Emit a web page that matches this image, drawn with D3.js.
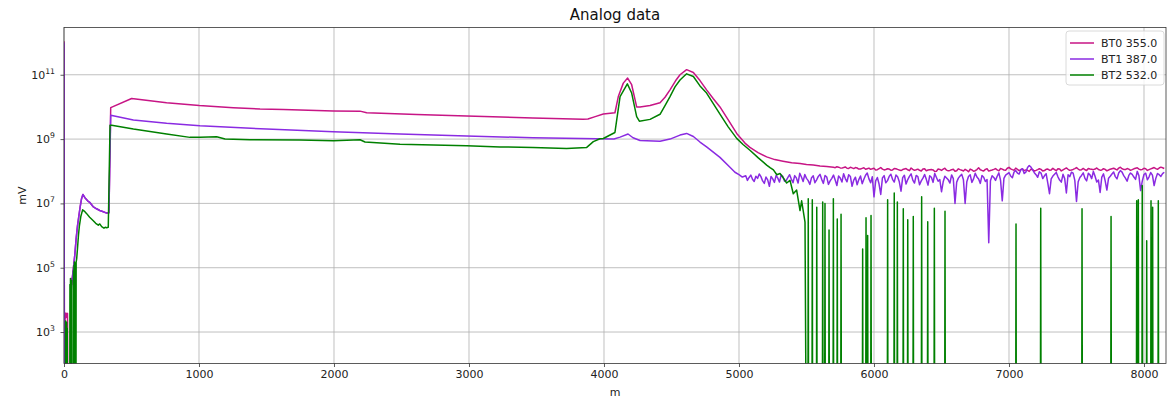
<!DOCTYPE html>
<html>
<head>
<meta charset="utf-8">
<script src="https://cdn.jsdelivr.net/npm/d3@7/dist/d3.min.js"></script>
<style>
  body { margin: 0; background: #fff; }
  svg { display: block; font-family: "DejaVu Sans", sans-serif; }
</style>
</head>
<body>
<svg id="chart" width="1167" height="400"></svg>
<script>
// ---- series labels and colours ----
const seriesNames  = ["BT0 355.0", "BT1 387.0", "BT2 532.0"];
const seriesColors = ["#c71585", "#8a2be2", "#008000"];

// ---- axis ticks ----
const xTickValues   = [0, 1000, 2000, 3000, 4000, 5000, 6000, 7000, 8000];
const yTickExponent = [3, 5, 7, 9, 11];
const xDomain = [0, 8163];
const yDomain = [1.05e2, 2.95e12];

// ---- BT0: readings [m, mV] ----
const bt0Head = [
  [0,1.1e12],[4,0],[8,3.6e3],[11,2.7e3],[14,3.9e3],[17,2.9e3],[20,3.7e3],[23,3.1e3],[26,3.8e3],[30,0],
  [50,0],[54,4.6e4],[58,3e4],[62,5e4],[66,7e4],[72,1.2e5],[80,2.5e5],[90,8e5],[100,2e6],[110,4e6],
  [120,8e6],[130,1.4e7],[140,1.9e7],[155,1.5e7],[175,1.2e7],[193,1.05e7],[215,8e6],[241,6.8e6],
  [265,6e6],[291,5.5e6],[316,5e6],[333,5.1e6],
  [346,9.5e9],[501,1.82e10],[760,1.35e10],[1002,1.10e10],[1254,9.5e9],[1452,8.6e9],[1625,8.3e9],
  [1995,7.5e9],[2193,7.4e9],[2242,6.6e9],[2612,5.8e9],[2983,5.2e9],[3474,4.55e9],[3844,4.15e9],
  [3881,4.2e9],[3935,5.0e9],[3995,6.0e9],[4081,6.6e9],[4106,2.1e10],[4143,5.5e10],[4175,7.9e10],
  [4205,4.9e10],[4242,1.0e10],[4267,1.0e10],[4341,1.1e10],[4415,1.35e10],[4452,2.0e10],[4489,3.4e10],
  [4530,6.5e10],[4563,1.0e11],[4612,1.44e11],[4662,1.18e11],[4711,6.6e10],[4760,3.4e10],[4810,1.8e10],
  [4859,1.0e10],[4919,4e9],[4983,1.5e9],[5044,7.5e8],[5081,5.5e8],[5141,3.8e8],[5205,2.8e8],
  [5265,2.3e8],[5326,2.06e8],[5390,1.85e8],[5452,1.74e8],[5500,1.62e8],[5550,1.55e8],[5600,1.46e8],
  [5650,1.40e8]
];
// BT0 noise floor: readings every 25 m from 5700 m, plus the readings half-way between them
const bt0TailStart = 5700, bt0TailStep = 25;
const bt0Tail = [
  1.32e8,1.38e8,1.27e8,1.30e8,1.24e8,1.33e8,1.21e8,1.26e8,1.18e8,1.28e8,1.20e8,
  1.15e8,1.24e8,1.12e8,1.30e8,1.10e8,1.19e8,1.08e8,1.22e8,1.14e8,1.05e8,1.18e8,1.11e8,
  1.26e8,1.07e8,1.16e8,1.02e8,1.20e8,1.09e8,1.13e8,0.98e8,1.17e8,1.06e8,1.24e8,1.03e8,
  1.12e8,1.00e8,1.19e8,1.08e8,1.15e8,0.96e8,1.10e8,1.04e8,1.28e8,1.06e8,1.14e8,1.01e8,
  1.09e8,1.21e8,1.03e8,1.16e8,1.07e8,1.32e8,1.12e8,1.25e8,1.05e8,1.18e8,1.10e8,0.99e8,
  1.13e8,1.06e8,1.20e8,1.02e8,1.15e8,1.08e8,1.23e8,1.04e8,1.17e8,1.11e8,1.27e8,1.07e8,
  1.14e8,1.30e8,1.09e8,1.22e8,1.05e8,1.18e8,1.12e8,1.26e8,1.08e8,1.20e8,1.03e8,1.16e8,
  1.24e8,1.10e8,1.33e8,1.14e8,1.21e8,1.07e8,1.19e8,1.28e8,1.11e8,1.23e8,1.06e8,1.18e8,
  1.30e8,1.15e8,1.34e8,1.22e8
];
const bt0TailMid = [
  1.29e8,1.34e8,1.25e8,1.36e8,1.22e8,1.27e8,1.30e8,1.17e8,1.23e8,1.15e8,
  1.25e8,1.19e8,1.09e8,1.21e8,1.16e8,1.13e8,1.17e8,1.10e8,1.20e8,1.09e8,
  1.13e8,1.21e8,1.04e8,1.15e8,1.11e8,1.07e8,1.18e8,1.03e8,1.12e8,1.10e8,
  1.00e8,1.14e8,1.16e8,1.08e8,1.06e8,1.15e8,1.04e8,1.12e8,1.02e8,1.07e8,
  1.17e8,1.00e8,1.13e8,1.11e8,1.02e8,1.19e8,1.05e8,1.14e8,1.10e8,1.22e8,
  1.09e8,1.24e8,1.19e8,1.08e8,1.15e8,1.13e8,1.04e8,1.07e8,1.16e8,1.01e8,
  1.12e8,1.14e8,1.05e8,1.17e8,1.10e8,1.13e8,1.20e8,1.02e8,1.19e8,1.15e8,
  1.10e8,1.21e8,1.17e8,1.12e8,1.11e8,1.22e8,1.15e8,1.17e8,1.13e8,1.10e8,
  1.14e8,1.09e8,1.20e8,1.17e8,1.25e8,1.19e8,1.13e8,1.16e8,1.12e8,1.24e8,
  1.16e8,1.14e8,1.20e8,1.12e8,1.24e8,1.21e8,1.26e8,1.28e8
];

// ---- BT1: readings [m, mV] ----
const bt1Head = [
  [0,1.0e12],[4,0],[50,0],[54,2e4],[58,3.5e4],[62,5e4],[66,7e4],[72,1.2e5],[80,2.5e5],[90,8e5],
  [100,2e6],[110,4e6],[120,8e6],[130,1.4e7],[140,1.9e7],[155,1.5e7],[175,1.2e7],[193,1.05e7],
  [215,8e6],[241,6.8e6],[265,6e6],[291,5.5e6],[316,5e6],[333,5.1e6],
  [346,5.5e9],[514,3.9e9],[760,3.1e9],[1007,2.6e9],[1501,2.05e9],[1995,1.7e9],[2489,1.43e9],
  [2983,1.24e9],[3474,1.1e9],[3946,1.02e9],[4074,1.0e9],[4119,1.15e9],[4178,1.44e9],[4215,1.1e9],
  [4267,9e8],[4415,8.5e8],[4489,1.0e9],[4563,1.33e9],[4612,1.5e9],[4662,1.2e9],[4711,8.1e8],
  [4760,5.7e8],[4859,2.7e8],[4933,1.33e8],[4970,9.3e7],[5000,7.8e7],[5025,6.6e7]
];
// BT1 noise floor: readings every 25 m from 5050 m, plus the readings half-way between them
const bt1TailStart = 5050, bt1TailStep = 25;
const bt1Tail = [
  7.2e7,6.4e7,5.6e7,7.0e7,8.2e7,5.0e7,6.6e7,3.4e7,5.8e7,7.4e7,
  4.6e7,6.8e7,5.2e7,7.8e7,4.4e7,6.2e7,8.6e7,4.8e7,6.0e7,3.9e7,
  7.2e7,5.4e7,8.0e7,4.2e7,6.6e7,5.0e7,7.6e7,3.6e7,6.2e7,8.4e7,
  4.7e7,6.9e7,5.3e7,3.8e7,7.1e7,5.6e7,8.8e7,4.4e7,1.6e7,6.4e7,
  1.9e7,7.3e7,5.1e7,8.1e7,4.6e7,6.7e7,2.4e7,7.5e7,5.5e7,8.3e7,
  4.3e7,6.8e7,5.0e7,7.9e7,3.7e7,6.5e7,8.5e7,4.9e7,2.3e7,7.0e7,
  5.4e7,7.7e7,1.0e7,6.1e7,8.0e7,1.0e7,6.9e7,4.5e7,8.7e7,5.7e7,
  7.4e7,4.8e7,6.0e5,7.2e7,5.2e7,8.9e7,1.2e7,7.6e7,9.0e7,6.3e7,
  1.05e8,8.2e7,1.2e8,9.4e7,1.5e8,1.1e8,7.8e7,9.6e7,5.9e7,8.4e7,
  2.0e7,7.1e7,9.2e7,5.3e7,8.0e7,2.1e7,6.8e7,8.7e7,1.15e7,6.4e7,
  8.9e7,5.0e7,7.7e7,9.8e7,4.6e7,2.2e7,8.3e7,2.6e7,7.0e7,9.5e7,
  5.8e7,1.05e8,7.3e7,4.9e7,8.8e7,6.6e7,9.9e7,2.5e7,7.9e7,5.4e7,
  9.1e7,3.6e7,8.5e7,6.9e7,9.3e7
];
const bt1TailMid = [
  5.2e7,7.6e7,4.8e7,6.0e7,6.8e7,4.2e7,5.4e7,6.9e7,4.5e7,6.1e7,
  7.7e7,4.9e7,6.4e7,5.7e7,7.3e7,4.3e7,6.6e7,7.9e7,5.1e7,6.3e7,
  4.4e7,6.9e7,5.6e7,7.4e7,3.9e7,6.0e7,5.3e7,7.1e7,4.6e7,5.9e7,
  7.8e7,3.4e7,6.5e7,5.5e7,4.1e7,7.5e7,5.8e7,6.7e7,5.0e7,4.0e7,
  6.2e7,4.4e7,6.9e7,5.6e7,7.6e7,4.7e7,6.3e7,4.0e7,6.9e7,5.3e7,
  7.4e7,3.8e7,6.1e7,5.6e7,7.2e7,4.5e7,6.4e7,5.5e7,4.7e7,6.2e7,
  4.3e7,5.9e7,4.6e7,7.1e7,5.4e7,4.7e7,7.8e7,5.8e7,6.6e7,4.2e7,
  6.5e7,5.5e7,5.1e7,6.4e7,7.0e7,5.2e7,6.0e7,8.3e7,7.1e7,9.5e7,
  8.8e7,1.1e8,8.5e7,1.3e8,1.35e8,9.0e7,6.5e7,8.8e7,7.2e7,4.3e7,
  5.8e7,8.1e7,6.7e7,4.6e7,5.9e7,7.8e7,9.3e7,5.2e7,4.7e7,7.4e7,
  6.0e7,8.6e7,5.9e7,7.0e7,5.3e7,6.6e7,5.0e7,6.1e7,8.2e7,6.8e7,
  8.8e7,9.4e7,6.1e7,7.4e7,8.0e7,5.6e7,7.2e7,5.0e7,8.7e7,6.7e7,
  7.6e7,6.0e7,7.8e7,8.4e7
];

// ---- BT2: readings [m, mV] ----
const bt2Head = [
  [0,0],[10,0],[12,2.2e3],[14,0],[16,1.6e3],[18,0],[20,2.0e3],[22,0],[24,1.3e3],[26,0],
  [42,0],[44,3e4],[46,0],[48,4.6e4],[50,0],[52,2.5e4],[54,0],[56,4e4],[58,0],
  [68,0],[70,8e4],[72,0],[74,1.2e5],[76,0],[78,1.5e5],[80,0],[82,1.0e5],[84,0],[86,1.4e5],[88,0],
  [90,1.5e5],[94,1.9e5],[100,4e5],[107,1e6],[114,2e6],[125,4e6],[138,6.3e6],[150,5.8e6],[168,4.8e6],
  [190,3.7e6],[217,2.9e6],[235,2.4e6],[254,2.1e6],[265,2.3e6],[279,1.9e6],[296,1.7e6],[305,1.8e6],
  [316,1.75e6],[328,1.8e6],
  [341,2.7e9],[353,2.7e9],[514,2.05e9],[760,1.43e9],[933,1.13e9],[1007,1.15e9],[1131,1.18e9],
  [1193,1.0e9],[1378,9.5e8],[1748,9.3e8],[1995,8.9e8],[2193,9.5e8],[2230,8.1e8],[2489,6.9e8],
  [2736,6.5e8],[2983,6.2e8],[3230,5.7e8],[3474,5.5e8],[3723,5.1e8],[3872,5.5e8],[3921,8.3e8],
  [3970,1.02e9],[3995,1.04e9],[4081,1.6e9],[4094,3.9e9],[4119,2.1e10],[4173,5.2e10],[4205,2.7e10],
  [4242,5e9],[4262,3.6e9],[4341,4.1e9],[4415,5.9e9],[4452,1.1e10],[4489,2.1e10],[4526,4.2e10],
  [4563,6.9e10],[4612,1.07e11],[4662,8.8e10],[4711,4.5e10],[4760,2.7e10],[4859,6e9],[4920,2.4e9],
  [4983,1.05e9],[5030,6.8e8],[5081,4.5e8],[5143,2.6e8],[5205,1.55e8],[5230,1.3e8],[5255,1.1e8],
  [5280,7.8e7],[5304,8.5e7],[5328,6.2e7],[5353,4.3e7],[5378,5.2e7],[5402,2.0e7],[5427,2.6e7],
  [5452,6.0e6],[5464,1.2e7],[5489,2.6e6],[5500,0]
];
// BT2 isolated readings past 5500 m; the signal reads 0 between them
const bt2Bursts = [
  [5513,1.4e7],[5543,1.3e7],[5576,7.6e6],[5620,1.1e7],[5637,1.0e7],[5667,1.5e6],[5699,1.4e7],
  [5728,3.3e6],[5756,4.6e6],[5916,3.8e5],[5941,3.6e6],[5953,1.0e6],[5978,4.2e6],[6101,1.3e7],
  [6150,2.1e7],[6173,1.1e7],[6217,6.8e6],[6250,3.1e6],[6291,3.9e6],[6353,1.6e7],[6398,2.7e6],
  [6447,7.1e6],[6526,5.7e6],[7052,2.3e6],[7235,7.1e6],[7541,6.8e6],[7756,3.9e6],[7946,1.2e7],
  [7958,1.3e7],[7987,3.6e7],[8020,6.9e5],[8052,1.2e7],[8064,7.6e6],[8106,1.2e7]
];
const bt2End = 8163;

// ---- assemble full series ----
function withTail(head, start, step, values, mids) {
  const tail = values.map((v, i) => [start + i * step, v])
    .concat(mids.map((v, i) => [start + (i + 0.5) * step, v]))
    .sort((a, b) => a[0] - b[0]);
  return head.concat(tail);
}
const bt0 = withTail(bt0Head, bt0TailStart, bt0TailStep, bt0Tail, bt0TailMid);
const bt1 = withTail(bt1Head, bt1TailStart, bt1TailStep, bt1Tail, bt1TailMid);
const bt2 = bt2Head.slice();
bt2Bursts.forEach(([m, v]) => { bt2.push([m - 3, 0], [m, v], [m + 3, 0]); });
bt2.push([bt2End, 0]);
const allSeries = [bt0, bt1, bt2];

// ---- layout ----
const svg = d3.select("#chart");
const plot = { left: 64, top: 27.5, right: 1166, bottom: 363.5 };
const x = d3.scaleLinear().domain(xDomain).range([plot.left, plot.right]);
const y = d3.scaleLog().domain(yDomain).range([plot.bottom, plot.top]);
const FLOOR = 1e-2;   // zero readings fall off the bottom of the log axis

svg.append("rect").attr("width", 1167).attr("height", 400).attr("fill", "#fff");

svg.append("defs").append("clipPath").attr("id", "plotClip")
  .append("rect").attr("x", plot.left).attr("y", plot.top)
  .attr("width", plot.right - plot.left).attr("height", plot.bottom - plot.top);

// grid
const grid = svg.append("g").attr("stroke", "#b0b0b0").attr("stroke-width", 0.8);
xTickValues.forEach(t => {
  grid.append("line").attr("x1", x(t)).attr("x2", x(t)).attr("y1", plot.top).attr("y2", plot.bottom);
});
yTickExponent.forEach(e => {
  const yy = y(Math.pow(10, e));
  grid.append("line").attr("x1", plot.left).attr("x2", plot.right).attr("y1", yy).attr("y2", yy);
});

// series lines
const line = d3.line()
  .x(d => x(d[0]))
  .y(d => y(Math.max(d[1], FLOOR)));
const lines = svg.append("g").attr("clip-path", "url(#plotClip)");
allSeries.forEach((s, i) => {
  lines.append("path").datum(s)
    .attr("d", line)
    .attr("fill", "none")
    .attr("stroke", seriesColors[i])
    .attr("stroke-width", 1.5)
    .attr("stroke-linejoin", "round");
});

// frame
svg.append("rect")
  .attr("x", plot.left).attr("y", plot.top)
  .attr("width", plot.right - plot.left).attr("height", plot.bottom - plot.top)
  .attr("fill", "none").attr("stroke", "#333").attr("stroke-width", 0.8);

// x axis
const xAxis = d3.axisBottom(x).tickValues(xTickValues).tickSize(3.5).tickPadding(3.5)
  .tickFormat(d3.format("d"));
const gx = svg.append("g").attr("transform", `translate(0,${plot.bottom})`).call(xAxis);
gx.select(".domain").remove();
gx.selectAll(".tick line").attr("stroke", "#333").attr("stroke-width", 0.8);
gx.selectAll(".tick text").attr("font-size", 11).attr("fill", "#222")
  .attr("font-family", "DejaVu Sans, sans-serif");

// y axis with power-of-ten labels
const yAxis = d3.axisLeft(y).tickValues(yTickExponent.map(e => Math.pow(10, e)))
  .tickSize(3.5).tickPadding(3.5).tickFormat("");
const gy = svg.append("g").attr("transform", `translate(${plot.left},0)`).call(yAxis);
gy.select(".domain").remove();
gy.selectAll(".tick line").attr("stroke", "#333").attr("stroke-width", 0.8);
yTickExponent.forEach(e => {
  const t = svg.append("text")
    .attr("x", 55).attr("y", y(Math.pow(10, e)) + 4)
    .attr("text-anchor", "end").attr("font-size", 11).attr("fill", "#222");
  t.append("tspan").text("10");
  t.append("tspan").attr("font-size", 7.7).attr("dy", -5).text(String(e));
});

// axis titles
svg.append("text").attr("x", (plot.left + plot.right) / 2).attr("y", 396)
  .attr("text-anchor", "middle").attr("font-size", 11).attr("fill", "#222").text("m");
svg.append("text").attr("transform", `translate(26,${(plot.top + plot.bottom) / 2}) rotate(-90)`)
  .attr("text-anchor", "middle").attr("font-size", 11).attr("fill", "#222").text("mV");

// chart title
svg.append("text").attr("x", (plot.left + plot.right) / 2).attr("y", 20)
  .attr("text-anchor", "middle").attr("font-size", 15).attr("fill", "#111").text("Analog data");

// legend
const lg = svg.append("g");
lg.append("rect").attr("x", 1066).attr("y", 31).attr("width", 98).attr("height", 54)
  .attr("rx", 3).attr("fill", "#fff").attr("fill-opacity", 0.8)
  .attr("stroke", "#d0d0d0").attr("stroke-width", 0.8);
seriesNames.forEach((name, i) => {
  const yy = 43 + i * 16;
  lg.append("line").attr("x1", 1070).attr("x2", 1094).attr("y1", yy).attr("y2", yy)
    .attr("stroke", seriesColors[i]).attr("stroke-width", 1.5);
  lg.append("text").attr("x", 1101).attr("y", yy + 4).attr("font-size", 11)
    .attr("fill", "#222").text(name);
});
</script>
</body>
</html>
